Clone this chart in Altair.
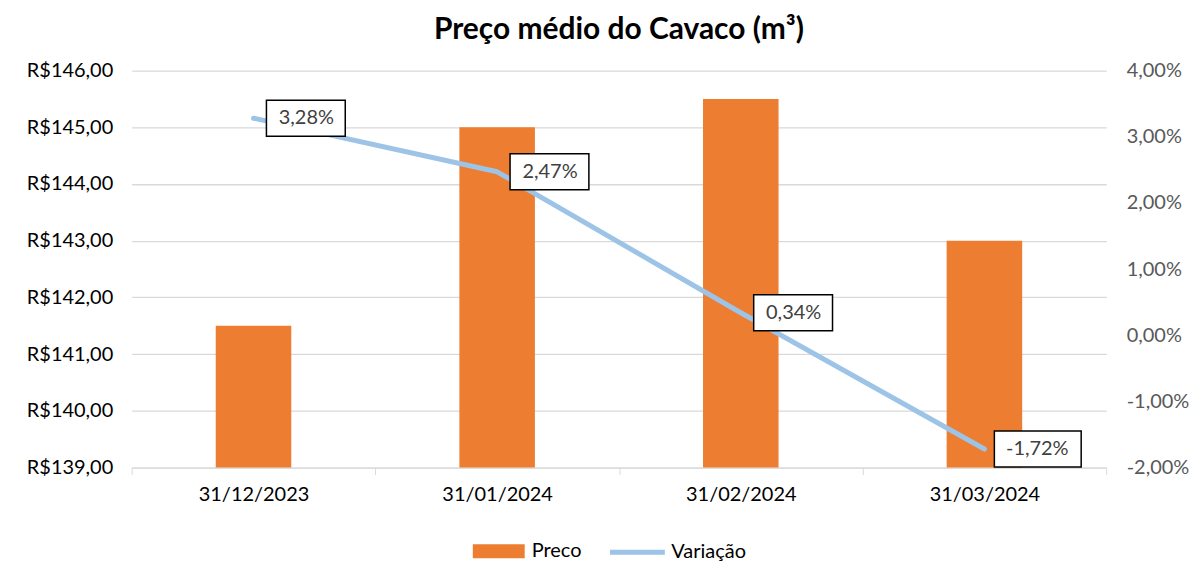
import altair as alt
import pandas as pd

datas = ["31/12/2023", "31/01/2024", "31/02/2024", "31/03/2024"]
preco = [141.5, 145.0, 145.5, 143.0]
variacao = [0.0328, 0.0247, 0.0034, -0.0172]
rotulos = ["3,28%", "2,47%", "0,34%", "-1,72%"]

df = pd.DataFrame({
    "data": datas,
    "preco": preco,
    "variacao": variacao,
    "rotulo": rotulos,
    "s_bar": ["Preco"] * 4,
    "s_line": ["Variação"] * 4,
})

FONT = "Lato"
box_narrow = "M0.144,-0.2 L1.022,-0.2 L1.022,0.2 L0.144,0.2 Z"
box_wide = "M0.111,-0.2 L1.078,-0.2 L1.078,0.2 L0.111,0.2 Z"

x = alt.X("data:N", sort=datas, title=None,
          scale=alt.Scale(paddingInner=0, paddingOuter=0),
          axis=alt.Axis(labelAngle=0, labelFontSize=20, labelColor="#000000",
                        labelPadding=10, tickBand="extent", tickSize=7,
                        tickColor="#D9D9D9", domainColor="#D9D9D9", grid=False))

bars = alt.Chart(df).mark_bar(clip=True, width=alt.RelativeBandSize(0.31)).encode(
    x=x,
    y=alt.Y("preco:Q", title=None,
            scale=alt.Scale(domain=[139, 146], zero=False, nice=False),
            axis=alt.Axis(values=[139, 140, 141, 142, 143, 144, 145, 146],
                          labelExpr="'R$' + replace(format(datum.value, '.2f'), '.', ',')",
                          labelFontSize=20, labelColor="#000000", labelPadding=19,
                          ticks=False, domain=False, grid=True, gridColor="#D9D9D9",
                          gridWidth=1.3)),
    fill=alt.Fill("s_bar:N", scale=alt.Scale(domain=["Preco"], range=["#ED7D31"]),
                  legend=alt.Legend(title=None, orient="none", legendX=341, legendY=455,
                                    symbolType="M-1,-0.27 L1,-0.27 L1,0.27 L-1,0.27 Z",
                                    symbolSize=2704, labelFontSize=20, labelColor="#000000",
                                    symbolOpacity=1, labelOffset=6)),
)

yr_scale = alt.Scale(domain=[-0.02, 0.04], nice=False, zero=False)
yr_axis = alt.Axis(orient="right", values=[-0.02, -0.01, 0, 0.01, 0.02, 0.03, 0.04],
                   labelExpr="replace(replace(format(datum.value, '.2%'), '.', ','), '\u2212', '-')",
                   labelFontSize=20, labelColor="#595959", labelPadding=20,
                   ticks=False, domain=False, grid=False)
yr = alt.Y("variacao:Q", title=None, scale=yr_scale, axis=yr_axis)

line = alt.Chart(df).mark_line(strokeWidth=5, strokeCap="round", strokeJoin="round").encode(
    x=alt.X("data:N", sort=datas),
    y=yr,
    stroke=alt.Stroke("s_line:N", scale=alt.Scale(domain=["Variação"], range=["#9DC3E6"]),
                      legend=alt.Legend(title=None, orient="none", legendX=477, legendY=453,
                                        symbolType="stroke", symbolSize=3025,
                                        symbolStrokeWidth=5, labelFontSize=20,
                                        labelColor="#000000", labelOffset=4)),
)

boxes = alt.Chart(df).mark_point(filled=True, fill="white", stroke="black",
                                 strokeWidth=1.5, opacity=1, size=32400).encode(
    x=alt.X("data:N", sort=datas),
    y=yr,
    shape=alt.Shape("rotulo:N", scale=alt.Scale(domain=rotulos,
                    range=[box_narrow, box_narrow, box_narrow, box_wide]), legend=None),
)

texts = alt.Chart(df).mark_text(align="center", baseline="middle", dx=53, fontSize=20,
                                color="#404040", font=FONT).encode(
    x=alt.X("data:N", sort=datas),
    y=yr,
    text="rotulo:N",
)

right = alt.layer(line, boxes, texts)

chart = alt.layer(bars, right).resolve_scale(
    y="independent", fill="independent", stroke="independent", shape="independent"
).properties(
    width=977, height=398,
    title=alt.TitleParams("Preço médio do Cavaco (m³)", fontSize=30, fontWeight="bold",
                          font=FONT, color="#000000", offset=16, anchor="middle"),
    padding={"left": 18, "right": 5, "top": 6, "bottom": 5},
).configure(font=FONT).configure_view(stroke=None).configure_axis(labelFont=FONT).configure_legend(
    labelFont=FONT)

chart.save("out.html", embed_options={"renderer": "svg", "actions": False})
